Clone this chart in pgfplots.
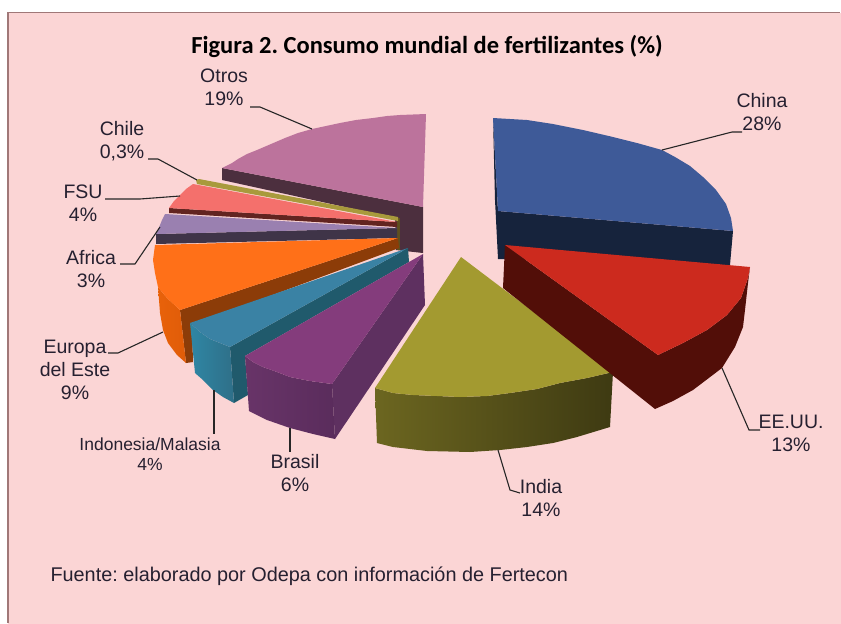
\documentclass[border=0pt]{standalone}
\usepackage{fontspec}
\setmainfont{Liberation Sans}
\newfontfamily\titlefont{Carlito}
\usepackage{pgfplots}
\pgfplotsset{compat=1.18}
\definecolor{bgpink}{HTML}{FBD5D5}
\definecolor{frameC}{HTML}{A07878}
\definecolor{txt}{HTML}{262030}
\definecolor{otrosT}{HTML}{BC739C}
\definecolor{otrosS}{HTML}{4C2F3E}
\definecolor{chileT}{HTML}{A89A3C}
\definecolor{chileS}{HTML}{5E5020}
\definecolor{fsuT}{HTML}{F4706C}
\definecolor{fsuS}{HTML}{622420}
\definecolor{afrT}{HTML}{9A80B0}
\definecolor{afrS}{HTML}{3F3448}
\definecolor{eurT}{HTML}{FF7018}
\definecolor{eurS}{HTML}{8C3C08}
\definecolor{eurA}{HTML}{E8620A}
\definecolor{eurB}{HTML}{E05C08}
\definecolor{indoT}{HTML}{3A82A4}
\definecolor{indoS}{HTML}{205A6C}
\definecolor{indoA}{HTML}{2F86A4}
\definecolor{indoB}{HTML}{2F6F88}
\definecolor{braT}{HTML}{843C7C}
\definecolor{braS}{HTML}{5E3060}
\definecolor{braA}{HTML}{683468}
\definecolor{braB}{HTML}{5A2C5C}
\definecolor{indiaT}{HTML}{A39A30}
\definecolor{indiaA}{HTML}{6C6620}
\definecolor{indiaB}{HTML}{3E3A12}
\definecolor{chinaT}{HTML}{3E5A98}
\definecolor{chinaS}{HTML}{16233C}
\definecolor{usaT}{HTML}{CC2A1E}
\definecolor{usaS}{HTML}{520E08}
\newcommand{\lab}[3]{\node[font=\fontsize{19.5}{23}\selectfont,text=txt,align=center,anchor=center] at (axis cs:#1,#2) {#3};}
\pgfplotsset{
  face/.style={draw=none,fill=#1,forget plot},
  grad/.style 2 args={draw=none,left color=#1,right color=#2,forget plot},
  leader/.style={draw=black!85,line width=1.1pt,forget plot},
}
\begin{document}
\frenchspacing
\begin{tikzpicture}
\begin{axis}[
  scale only axis,
  width=841pt,height=624pt,
  xmin=0,xmax=841,ymin=0,ymax=624,
  y dir=reverse,
  hide axis,
  no markers,
]
% page and panel
\addplot[draw=none,fill=white,forget plot] coordinates {(0,0)(841,0)(841,624)(0,624)} --cycle;
\addplot[draw=none,fill=bgpink,forget plot] coordinates {(8,12.5)(841,12.5)(841,624)(8,624)} --cycle;
\addplot[draw=frameC,line width=1.6pt,forget plot] coordinates {(8,623)(8,12.5)(840,12.5)};

% Otros
\addplot[face=otrosS] coordinates {(222,168)(423,207)(423,253)(396,250)(395,218)(222,180)} --cycle;
\addplot[face=otrosT] coordinates {(426,114)(413,114.5)(400,115)(387,116)(373,118)(356,120)(340,123)(326,126)(312,129)(298,133)(285,138)(271,144)(257,150)(247,154)(238,159)(232,163)(222,168)(423,207)} --cycle;
% Chile
\addplot[face=chileS] coordinates {(397,218)(400,218)(400,250)(397,250)} --cycle;
\addplot[face=chileT] coordinates {(196,180)(199,179)(398,217)(398,221)(197,184)} --cycle;
% FSU
\addplot[face=fsuS] coordinates {(169,208)(397,222)(397,227)(169,213)} --cycle;
\addplot[face=fsuT] coordinates {(193,184)(186,189)(180,195)(174,201)(169,208)(397,222)} --cycle;
% Africa
\addplot[face=afrS] coordinates {(156,234)(397,228)(397,238)(156,244)} --cycle;
\addplot[face=afrT] coordinates {(165,214)(162,220)(160,225)(158,230)(156,234)(397,228)} --cycle;
% Europa del Este
\addplot[face=eurS] coordinates {(180,310)(398,238)(399,248)(192,325)(193,362)(186,363)} --cycle;
\addplot[grad={eurA}{eurB}] coordinates {(158,287)(167,298)(180,310)(186,363)(177,355)(168,343)(163,330)(160,313)} --cycle;
\addplot[face=eurT] coordinates {(155,245)(153,260)(155,273)(158,287)(167,298)(180,310)(398,238)} --cycle;
% Indonesia/Malasia
\addplot[face=indoS] coordinates {(408,248)(230,347)(234,403)(248,395)(245,356)(409,262)} --cycle;
\addplot[grad={indoA}{indoB}] coordinates {(190,323)(200,332)(210,339)(220,343)(230,347)(234,403)(223,397)(213,390)(203,380)(195,373)} --cycle;
\addplot[face=indoT] coordinates {(408,248)(190,323)(200,332)(210,339)(220,343)(230,347)} --cycle;
% Brasil
\addplot[face=braS] coordinates {(423,254)(425,305)(335,439)(332,384)} --cycle;
\addplot[grad={braA}{braB}] coordinates {(245,356)(253,362)(263,367)(277,372)(290,377)(310,381)(332,384)(335,439)(313,434)(290,428)(267,420)(249,411)} --cycle;
\addplot[face=braT] coordinates {(423,254)(245,356)(253,362)(263,367)(277,372)(290,377)(310,381)(332,384)} --cycle;
% India
\addplot[grad={indiaA}{indiaB}] coordinates {(375,388)(393,393)(413,395)(437,396)(460,397)(487,396)(510,393)(537,389)(560,383)(587,378)(613,372)(610,427)(577,437)(553,443)(527,447)(500,450)(470,452)(427,451)(393,447)(377,443)} --cycle;
\addplot[face=indiaT] coordinates {(461,257)(375,388)(393,393)(413,395)(437,396)(460,397)(487,396)(510,393)(537,389)(560,383)(587,378)(613,372)} --cycle;
% China
\addplot[face=chinaS] coordinates {(493,118)(498,211)(733,231)(730,265)(498,259)(495,200)} --cycle;
\addplot[face=chinaT] coordinates {(493,118)(527,120)(553,124)(583,130)(613,137)(637,143)(662,150)(675,157)(690,166)(703,177)(716,190)(726,204)(731,218)(733,231)(498,211)} --cycle;
% EE.UU.
\addplot[face=usaS] coordinates {(505,245)(658,355)(683,343)(707,330)(727,315)(741,298)(748,278)(750,267)(748,283)(745,310)(743,327)(735,347)(722,368)(693,390)(673,401)(655,409)(503,288)} --cycle;
\addplot[face=usaT] coordinates {(505,245)(750,267)(748,278)(741,298)(727,315)(707,330)(683,343)(658,355)} --cycle;

% leader lines
\addplot[leader] coordinates {(250,107)(260,107)(312,129)};
\addplot[leader] coordinates {(148,159)(158,159)(197,180)};
\addplot[leader] coordinates {(105,199)(140,199)(180,196)};
\addplot[leader] coordinates {(120,264)(135,264)(160,227)};
\addplot[leader] coordinates {(108,353)(118,353)(163,332)};
\addplot[leader] coordinates {(214,390)(214,434)};
\addplot[leader] coordinates {(290,428)(290,452)};
\addplot[leader] coordinates {(498,450)(510,490)(520,493)};
\addplot[leader] coordinates {(722,368)(749,430)(760,430)};
\addplot[leader] coordinates {(662,150)(732,132)(742,132)};

% texts
\node[font=\titlefont\bfseries\fontsize{24.5}{28}\selectfont,text=black,anchor=center] at (axis cs:427,46) {Figura 2.\ Consumo mundial de fertilizantes (\%)};
\lab{224}{87}{Otros\\19\%}
\lab{122}{141}{Chile\\0,3\%}
\lab{83}{203}{FSU\\4\%}
\lab{91}{269}{Africa\\3\%}
\lab{75}{370}{Europa\\del Este\\9\%}
\node[font=\fontsize{17.5}{20}\selectfont,text=txt,align=center,anchor=center] at (axis cs:150,454) {Indonesia/Malasia\\4\%};
\lab{295}{473}{Brasil\\6\%}
\lab{541}{498}{India\\14\%}
\lab{791}{433}{EE.UU.\\13\%}
\lab{762}{112}{China\\28\%}
\node[font=\fontsize{19.85}{23}\selectfont,text=txt,anchor=west] at (axis cs:47,576) {Fuente: elaborado por Odepa con información de Fertecon};
\end{axis}
\end{tikzpicture}
\end{document}
